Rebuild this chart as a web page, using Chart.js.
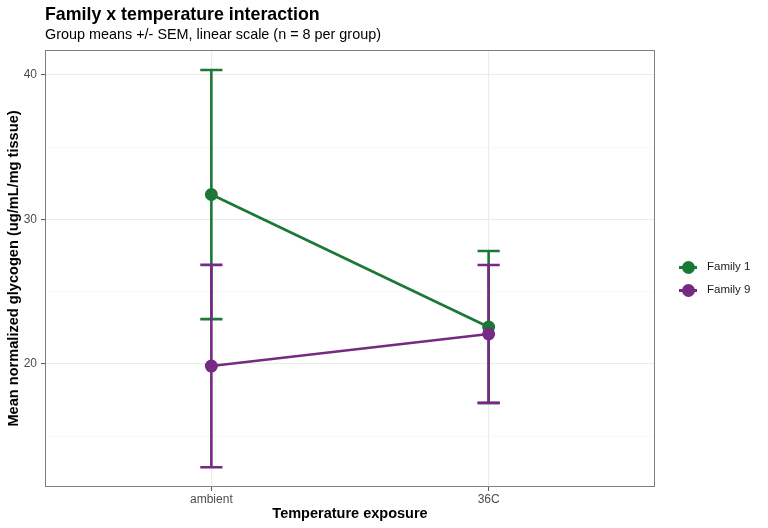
<!DOCTYPE html>
<html lang="en">
<head>
    <meta charset="UTF-8">
    <title>Family x temperature interaction</title>
    <script src="https://cdn.jsdelivr.net/npm/chart.js"></script>
    <style>
        html, body {
            margin: 0;
            padding: 0;
            background: #FFFFFF;
            font-family: "Liberation Sans", Arial, sans-serif;
        }
        .wrap {
            position: relative;
            width: 768px;
            height: 528px;
        }
        .title {
            position: absolute;
            left: 45px;
            top: 4px;
            font-size: 17.8px;
            font-weight: bold;
            color: #000;
            white-space: nowrap;
        }
        .subtitle {
            position: absolute;
            left: 45px;
            top: 26px;
            font-size: 14.4px;
            color: #000;
            white-space: nowrap;
        }
        .legend {
            position: absolute;
            left: 679px;
            top: 258px;
        }
        .legend-item {
            position: relative;
            width: 89px;
            height: 23px;
            font-size: 11.5px;
            color: #1A1A1A;
            white-space: nowrap;
        }
        .swatch {
            position: absolute;
            left: 0;
            top: 8px;
            width: 18px;
            height: 2.5px;
        }
        .swatch::after {
            content: "";
            position: absolute;
            left: 2.5px;
            top: -5.25px;
            width: 13px;
            height: 13px;
            border-radius: 50%;
            background: inherit;
        }
        .legend-item span.label {
            position: absolute;
            left: 28px;
            top: 2px;
        }
        canvas {
            position: absolute;
            left: 0;
            top: 0;
        }
    </style>
</head>
<body>
<div class="wrap">
    <canvas id="chart" width="768" height="528"></canvas>
    <div class="title">Family x temperature interaction</div>
    <div class="subtitle">Group means +/- SEM, linear scale (n = 8 per group)</div>
    <div class="legend" id="legend"></div>
</div>

<script>
    // data
    const categories = ['ambient', '36C'];
    const families = ['Family 1', 'Family 9'];
    const colors = ['#1B7837', '#762A83'];
    const family1Mean = [31.73, 22.56];
    const family1Sem = [8.62, 5.26];
    const family9Mean = [19.86, 22.08];
    const family9Sem = [7.0, 4.77];
    const yTicks = [15, 20, 25, 30, 35, 40];

    const means = [family1Mean, family9Mean];
    const sems = [family1Sem, family9Sem];

    const datasets = families.map((name, i) => ({
        label: name,
        data: means[i].map((v, j) => ({ x: j + 1, y: v, sem: sems[i][j] })),
        borderColor: colors[i],
        backgroundColor: colors[i],
        borderWidth: 2.6,
        pointRadius: 6.5,
        pointBorderWidth: 0,
        pointHoverRadius: 6.5,
        tension: 0,
        order: families.length - i
    }));

    // error bars, drawn under the lines and points
    const errorBars = {
        id: 'errorBars',
        beforeDatasetsDraw(chart) {
            const ctx = chart.ctx;
            const xs = chart.scales.x, ys = chart.scales.y;
            ctx.save();
            ctx.lineWidth = 2.6;
            chart.data.datasets.forEach(ds => {
                ctx.strokeStyle = ds.borderColor;
                ds.data.forEach(p => {
                    const x = xs.getPixelForValue(p.x);
                    const top = ys.getPixelForValue(p.y + p.sem);
                    const bot = ys.getPixelForValue(p.y - p.sem);
                    const half = (xs.getPixelForValue(p.x + 0.04) - x);
                    ctx.beginPath();
                    ctx.moveTo(x, top); ctx.lineTo(x, bot);
                    ctx.moveTo(x - half, top); ctx.lineTo(x + half, top);
                    ctx.moveTo(x - half, bot); ctx.lineTo(x + half, bot);
                    ctx.stroke();
                });
            });
            ctx.restore();
        },
        afterDraw(chart) {
            const a = chart.chartArea;
            const ctx = chart.ctx;
            ctx.save();
            ctx.strokeStyle = '#7F7F7F';
            ctx.lineWidth = 1;
            ctx.strokeRect(a.left + 0.5, a.top + 0.5, a.right - a.left - 1, a.bottom - a.top - 1);
            ctx.restore();
        }
    };

    new Chart(document.getElementById('chart'), {
        type: 'line',
        data: { datasets },
        options: {
            responsive: false,
            animation: false,
            events: [],
            layout: { padding: { top: 50, right: 113, bottom: 0, left: 0 } },
            plugins: {
                legend: { display: false },
                tooltip: { enabled: false }
            },
            scales: {
                x: {
                    type: 'linear',
                    min: 0.4,
                    max: 2.6,
                    afterBuildTicks: s => { s.ticks = categories.map((c, i) => ({ value: i + 1 })); },
                    afterFit: s => { s.height = 41; },
                    border: { display: false },
                    grid: {
                        color: '#EBEBEB',
                        lineWidth: 1.1,
                        tickLength: 4,
                        tickColor: '#555555',
                        tickWidth: 1
                    },
                    ticks: {
                        padding: 1,
                        color: '#4D4D4D',
                        font: { family: 'Liberation Sans', size: 12 },
                        callback: v => categories[v - 1]
                    },
                    title: {
                        display: true,
                        text: 'Temperature exposure',
                        color: '#000',
                        font: { family: 'Liberation Sans', size: 14.5, weight: 'bold' },
                        padding: { top: 0, bottom: 5 }
                    }
                },
                y: {
                    type: 'linear',
                    min: 11.49,
                    max: 41.73,
                    afterBuildTicks: s => { s.ticks = yTicks.map(v => ({ value: v })); },
                    afterFit: s => { s.width = 45; },
                    border: { display: false },
                    grid: {
                        color: c => c.tick && c.tick.value % 10 === 0 ? '#EBEBEB' : '#F4F4F4',
                        lineWidth: c => c.tick && c.tick.value % 10 === 0 ? 1.1 : 0.6,
                        tickLength: 4,
                        tickColor: c => c.tick && c.tick.value % 10 === 0 ? '#555555' : 'rgba(0,0,0,0)',
                        tickWidth: 1
                    },
                    ticks: {
                        padding: 4,
                        color: '#4D4D4D',
                        font: { family: 'Liberation Sans', size: 12 },
                        callback: v => v % 10 === 0 ? v : ''
                    },
                    title: {
                        display: true,
                        text: 'Mean normalized glycogen (ug/mL/mg tissue)',
                        color: '#000',
                        font: { family: 'Liberation Sans', size: 14.6, weight: 'bold' },
                        padding: { top: 5, bottom: 0 }
                    }
                }
            }
        },
        plugins: [errorBars]
    });

    // legend
    const legend = document.getElementById('legend');
    families.forEach((name, i) => {
        const item = document.createElement('div');
        item.className = 'legend-item';
        item.innerHTML = '<div class="swatch" style="background:' + colors[i] + '"></div><span class="label">' + name + '</span>';
        legend.appendChild(item);
    });
</script>
</body>
</html>
